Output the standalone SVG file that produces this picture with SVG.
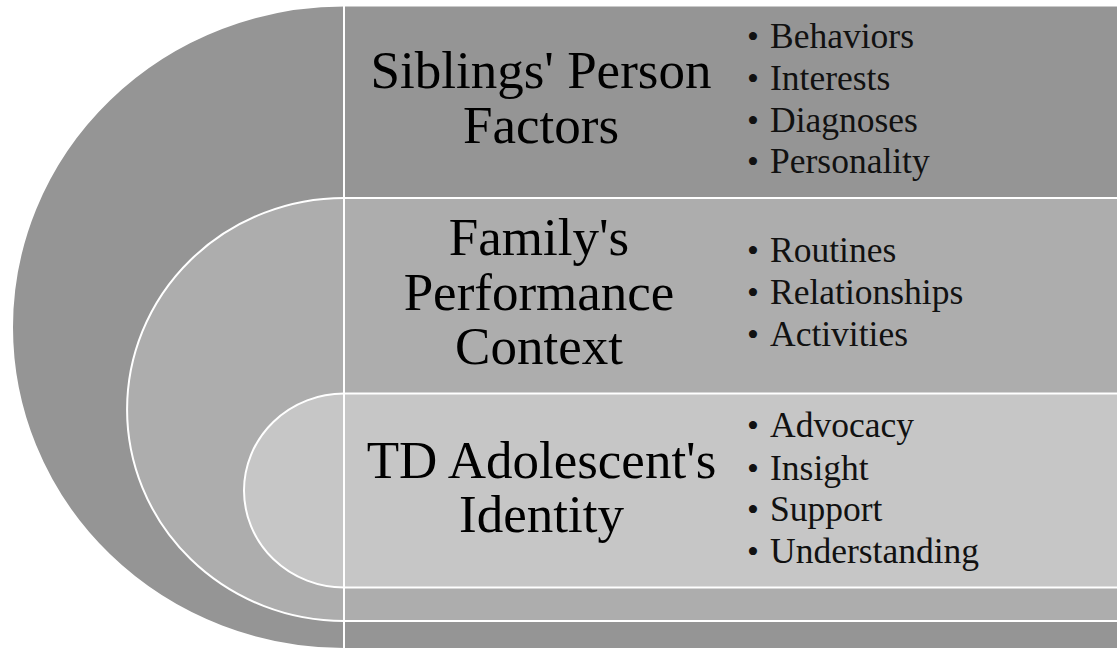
<svg xmlns="http://www.w3.org/2000/svg" width="1117" height="650" viewBox="0 0 1117 650">
<style>
.band{stroke:#ffffff;stroke-width:2}
.title{font-family:"Liberation Serif","Times New Roman",serif;font-size:53px;fill:#000;text-anchor:middle}
.item{font-family:"Liberation Serif","Times New Roman",serif;font-size:35.5px;fill:#111}
.dot{font-family:"Liberation Serif","Times New Roman",serif;font-size:34px;fill:#111;text-anchor:middle}
</style>
<rect width="1117" height="650" fill="#ffffff"/>
<g id="outer">
<path class="band" fill="#959595" d="M1119,5.5 H344 A332,321.75 0 0 0 344,649 H1119 Z"/>
<text class="title" x="541" y="88">Siblings' Person</text>
<text class="title" x="541" y="142.5">Factors</text>
<text class="dot" x="753" y="47.5">•</text><text class="item" x="770" y="47.5">Behaviors</text>
<text class="dot" x="753" y="90">•</text><text class="item" x="770" y="90">Interests</text>
<text class="dot" x="753" y="131.5">•</text><text class="item" x="770" y="131.5">Diagnoses</text>
<text class="dot" x="753" y="173">•</text><text class="item" x="770" y="173">Personality</text>
</g>
<g id="middle">
<path class="band" fill="#adadad" d="M1119,198 H344 A217,211.5 0 0 0 344,621 H1119 Z"/>
<text class="title" x="539" y="255">Family's</text>
<text class="title" x="539" y="309.5">Performance</text>
<text class="title" x="539" y="363.5">Context</text>
<text class="dot" x="753" y="262">•</text><text class="item" x="770" y="262">Routines</text>
<text class="dot" x="753" y="304">•</text><text class="item" x="770" y="304">Relationships</text>
<text class="dot" x="753" y="346">•</text><text class="item" x="770" y="346">Activities</text>
</g>
<g id="inner">
<path class="band" fill="#c6c6c6" d="M1119,393.5 H344 A100,97 0 0 0 344,587.5 H1119 Z"/>
<text class="title" x="541.5" y="478">TD Adolescent's</text>
<text class="title" x="541.5" y="532">Identity</text>
<text class="dot" x="753" y="437">•</text><text class="item" x="770" y="437">Advocacy</text>
<text class="dot" x="753" y="480">•</text><text class="item" x="770" y="480">Insight</text>
<text class="dot" x="753" y="521">•</text><text class="item" x="770" y="521">Support</text>
<text class="dot" x="753" y="563">•</text><text class="item" x="770" y="563">Understanding</text>
</g>
<g id="connectors">
<line x1="344" y1="5" x2="344" y2="650" stroke="#ffffff" stroke-width="2"/>
</g>
</svg>
